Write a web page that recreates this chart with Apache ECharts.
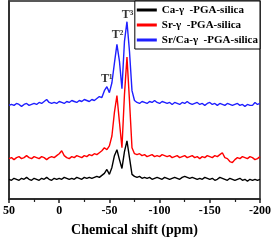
<!DOCTYPE html>
<html><head><meta charset="utf-8">
<script src="https://cdn.jsdelivr.net/npm/echarts@6/dist/echarts.min.js"></script>
<style>html,body{margin:0;padding:0;background:#fff}#c{width:274px;height:242px}</style>
</head><body><div id="c"></div>
<script>
// chemical shift grid (ppm), 2.5 ppm steps from 50 to -200
var shifts = [];
for (var k = 0; k <= 100; k++) shifts.push(50 - 2.5 * k);

var seriesNames = ['Ca-\u03b3  -PGA-silica', 'Sr-\u03b3  -PGA-silica', 'Sr/Ca-\u03b3  -PGA-silica'];

var caValues = [20,19,21,20,19,21,20,22,20,19,
21,20,19,21,20,22,20,19,21,20,
21,20,22,21,20,21,20,22,21,20,
22,21,22,21,22,23,22,24,26,30,
25,32,44,50,40,31,48,59,42,25,
23,22,23,21,22,21,22,20,21,22,
21,20,22,21,20,21,22,21,20,22,
23,22,21,22,21,20,21,20,22,21,
20,21,19,20,22,21,20,19,21,20,
19,20,21,19,20,18,20,19,20,19,20];

var srValues = [41,42,40,42,43,41,42,44,42,41,
43,42,41,43,42,40,42,43,42,44,
46,49,44,42,41,43,42,44,43,42,
44,43,45,44,46,45,47,49,52,50,
54,64,88,105,78,52,106,144,100,52,
46,45,46,44,45,43,44,45,43,44,
43,45,44,43,44,42,43,44,42,43,
44,42,43,44,42,43,41,43,42,44,
43,42,44,43,45,47,42,41,38,37,
40,42,41,43,42,41,43,42,40,41,43];

var srcaValues = [95,96,95,97,96,94,96,97,95,96,
97,96,98,97,99,101,98,97,98,97,
99,98,97,99,98,100,99,98,100,99,
101,100,99,101,100,102,104,103,110,114,
108,118,138,157,140,112,160,180,150,110,
100,98,97,99,98,97,99,98,100,98,
97,99,98,97,98,96,98,97,96,98,
97,99,97,96,97,98,96,97,95,97,
98,96,97,95,97,96,95,97,96,95,
96,97,95,96,94,96,95,95,98,96,97];

var peakLabels = ['T\u00b9', 'T\u00b2', 'T\u00b3'];
var peakShifts = [-47.5, -58, -68];
var peakLabelY = [122, 167, 187];

var xTicks = [50, 0, -50, -100, -150, -200];

function pairs(vals) { return shifts.map(function (s, i) { return [s, vals[i]]; }); }

var serif = '"Liberation Serif", "DejaVu Serif", serif';
var colors = ['#000000', '#ff0000', '#1f1fff'];
var allVals = [caValues, srValues, srcaValues];

var series = seriesNames.map(function (n, i) {
  return {
    name: n, type: 'line', data: pairs(allVals[i]), showSymbol: false, symbol: 'none',
    lineStyle: { color: colors[i], width: 1.4 }, itemStyle: { color: colors[i] }, z: 5 - i, animation: false
  };
});
series.push({
  type: 'scatter', symbolSize: 0, silent: true, animation: false, z: 20,
  data: peakLabels.map(function (t, i) { return { name: t, value: [peakShifts[i], peakLabelY[i]] }; }),
  label: { show: true, position: 'inside', formatter: '{b}', color: '#000', fontFamily: serif, fontWeight: 'bold', fontSize: 12 }
});

var chart = echarts.init(document.getElementById('c'), null, { renderer: 'canvas' });
chart.setOption({
  animation: false,
  grid: { left: 7, right: 13, top: 1, bottom: 40, show: true, borderColor: '#222', borderWidth: 1.5, backgroundColor: 'transparent' },
  legend: {
    data: seriesNames, orient: 'vertical', right: 14, top: 1, icon: 'rect', itemWidth: 20, itemHeight: 3, itemGap: 1,
    padding: [2, 2, 2, 2], borderColor: '#000', borderWidth: 1, backgroundColor: '#fff', z: 1,
    textStyle: { fontFamily: serif, fontWeight: 'bold', fontSize: 11, color: '#000', lineHeight: 14 }
  },
  xAxis: {
    type: 'value', min: -200, max: 50, interval: 50, inverse: true,
    name: 'Chemical shift (ppm)', nameLocation: 'middle', nameGap: 24,
    nameTextStyle: { fontFamily: serif, fontWeight: 'bold', fontSize: 14, color: '#000' },
    axisLine: { show: true, onZero: false, lineStyle: { color: '#222', width: 1.5 } },
    axisTick: { show: true, inside: false, length: 4, lineStyle: { color: '#222', width: 1.5 } },
    minorTick: { show: true, splitNumber: 2, length: 3, lineStyle: { color: '#222', width: 1.2 } },
    axisLabel: { margin: 6, fontFamily: serif, fontWeight: 'bold', fontSize: 12, color: '#000',
      formatter: function (v) { return xTicks.indexOf(v) >= 0 ? String(v) : ''; } },
    splitLine: { show: false }
  },
  yAxis: {
    type: 'value', min: 0, max: 201,
    axisLine: { show: true, onZero: false, lineStyle: { color: '#333', width: 2 } },
    axisTick: { show: false }, axisLabel: { show: false }, splitLine: { show: false }
  },
  series: series
});
</script></body></html>
